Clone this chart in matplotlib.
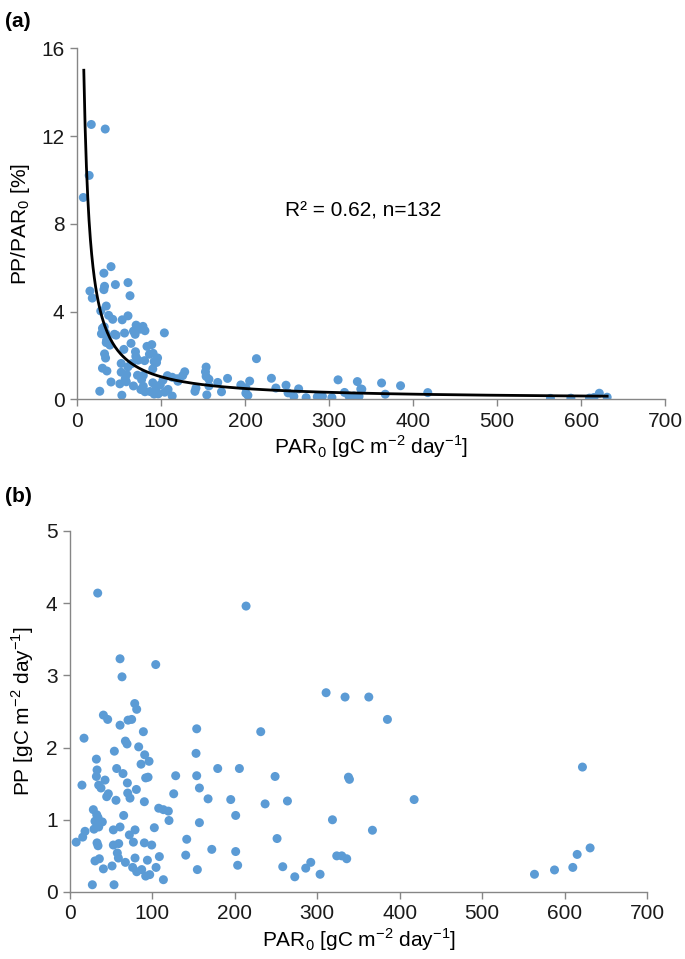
#! /usr/bin/env python3

import numpy as np
import matplotlib
matplotlib.use("Agg")
import matplotlib.pyplot as plt

plt.rcParams["font.family"] = ["Liberation Sans", "DejaVu Sans"]
plt.rcParams["mathtext.fontset"] = "custom"
plt.rcParams["mathtext.rm"] = "Liberation Sans"

# PAR0 [gC m-2 day-1] and PP [gC m-2 day-1]
par = [33.6, 60.7, 63.1, 104, 78.5, 80.9, 40.5, 45.7, 60.7, 70.4, 74.8, 17, 89,
       67.2, 69.2, 83.3, 53.8, 32, 90.6, 95.9, 86.2, 32.8, 56.6, 64.3, 32, 91.8,
       94.7, 42.5, 14.5, 34.8, 69.6, 37.6, 80.5, 46.5, 44.5, 70, 72.8, 55.8, 90.2,
       28.3, 32.4, 34, 65.1, 30.3, 39.2, 35.2, 18.2, 29.1, 34.8, 7.5, 15.4, 52.6,
       60.7, 78.9, 72, 76.9, 32.8, 34, 59.1, 52.6, 90.2, 99.1, 102.3, 107.6, 113.3,
       119.3, 120.1, 125.8, 128.2, 57.4, 58.7, 108.4, 30.3, 35.6, 67.2, 78.9, 93.9,
       51, 40.5, 76, 80.9, 87, 91.8, 96.7, 104.4, 113.3, 27.1, 53.4,
       153.7, 152.9, 153.7, 157, 157, 154.5, 141.6, 140.4,
       213.6, 231.4, 179.2, 205.5, 248.8, 167.5, 195, 236.7, 263.8, 201, 251.2,
       172, 201, 203.4, 258.1, 272.7,
       310.7, 333.7, 362.5, 385.1, 337.8, 339, 417.5, 318.4, 366.9, 323.6, 329.7,
       335.7, 286, 292.1, 303.4,
       621.7, 631, 615.3, 610, 587.8, 563.5]
pp = [4.14, 3.23, 2.98, 3.15, 2.61, 2.53, 2.45, 2.39, 2.31, 2.38, 2.39, 2.13, 2.22,
      2.09, 2.05, 2.01, 1.95, 1.84, 1.90, 1.81, 1.77, 1.69, 1.71, 1.64, 1.60, 1.58,
      1.59, 1.55, 1.48, 1.48, 1.51, 1.44, 1.42, 1.36, 1.32, 1.37, 1.30, 1.27, 1.25,
      1.14, 1.07, 1.03, 1.06, 0.98, 0.97, 0.95, 0.84, 0.87, 0.90, 0.69, 0.76, 0.86,
      0.90, 0.86, 0.79, 0.69, 0.68, 0.64, 0.67, 0.65, 0.68, 0.65, 0.89, 1.16, 1.14,
      1.12, 0.99, 1.36, 1.61, 0.54, 0.47, 0.49, 0.43, 0.46, 0.41, 0.47, 0.44,
      0.36, 0.32, 0.34, 0.28, 0.31, 0.22, 0.24, 0.34, 0.17, 0.10, 0.10,
      2.26, 1.92, 1.61, 1.44, 0.96, 0.31, 0.73, 0.51,
      3.96, 2.22, 1.71, 1.71, 1.60, 1.29, 1.28, 1.22, 1.26, 1.06, 0.74,
      0.59, 0.56, 0.37, 0.35, 0.21,
      2.76, 2.70, 2.70, 2.39, 1.59, 1.56, 1.28, 1.00, 0.855, 0.50, 0.50,
      0.46, 0.33, 0.41, 0.245,
      1.73, 0.61, 0.52, 0.34, 0.305, 0.245]

# power-law trendline y = a * x^b
fit_a = 139.5
fit_b = -1.066
fit_start = 8.1
fit_label = "R\u00b2 = 0.62, n=132"

par = np.array(par)
pp = np.array(pp)
ratio = pp / par * 100

blue = "#5B9BD5"
grey = "#868686"
fs = 15
xlab = r"PAR$_\mathregular{0}$ [gC m$^\mathregular{-2}$ day$^\mathregular{-1}$]"

fig = plt.figure(figsize=(6.85, 9.59), dpi=100)
ax1 = fig.add_axes([0.1124, 0.5836, 0.8586, 0.366])
ax2 = fig.add_axes([0.1022, 0.0699, 0.8423, 0.3764])

def style(ax):
    for side in ["top", "right"]:
        ax.spines[side].set_visible(False)
    for side in ["left", "bottom"]:
        ax.spines[side].set_color(grey)
        ax.spines[side].set_linewidth(1)
    ax.tick_params(direction="out", length=5, width=1, color=grey,
                   labelsize=fs, labelcolor="#1a1a1a", pad=4)
    ax.set_xlim(0, 700)
    ax.set_xticks(range(0, 701, 100))

# (a)
ax1.scatter(par, ratio, s=42, color=blue, edgecolors="none", zorder=2)
xs = np.linspace(fit_start, par.max(), 400)
ax1.plot(xs, fit_a * xs ** fit_b, color="black", linewidth=2, zorder=3)
style(ax1)
ax1.set_ylim(0, 16)
ax1.set_yticks([0, 4, 8, 12, 16])
ax1.text(248, 8.6, fit_label, fontsize=fs, va="center", ha="left")
ax1.set_xlabel(xlab, fontsize=fs, labelpad=2)
ax1.set_ylabel(r"PP/PAR$_\mathregular{0}$ [%]", fontsize=fs, labelpad=7)

# (b)
ax2.scatter(par, pp, s=42, color=blue, edgecolors="none", zorder=2)
style(ax2)
ax2.set_ylim(0, 5)
ax2.set_yticks([0, 1, 2, 3, 4, 5])
ax2.set_xlabel(xlab, fontsize=fs, labelpad=2)
ax2.set_ylabel(r"PP [gC m$^\mathregular{-2}$ day$^\mathregular{-1}$]",
               fontsize=fs, labelpad=7)

fig.text(0.008, 0.988, "(a)", fontsize=fs, fontweight="bold", va="top")
fig.text(0.008, 0.492, "(b)", fontsize=fs, fontweight="bold", va="top")

fig.savefig("out.png", dpi=100)
